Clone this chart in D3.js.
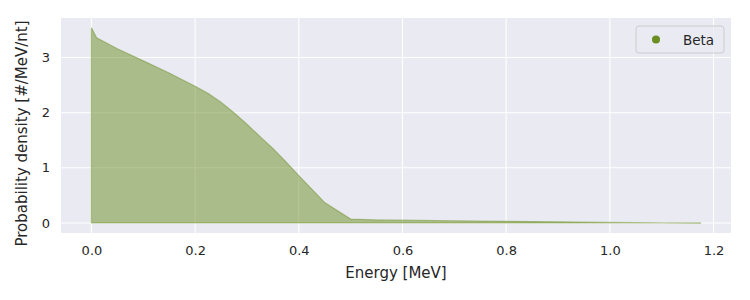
<!DOCTYPE html>
<html>
<head>
<meta charset="utf-8">
<script src="https://cdn.jsdelivr.net/npm/d3@7"></script>
<style>
  body { margin: 0; background: #fff; }
  svg { font-family: "DejaVu Sans", sans-serif; }
</style>
</head>
<body>
<div id="chart"></div>
<script>
// energy grid (MeV) and beta spectrum probability density
const energy = [0, 0.01, 0.05, 0.1, 0.15, 0.2, 0.225, 0.25, 0.275, 0.3, 0.325, 0.35, 0.375,
                0.4, 0.45, 0.5, 0.55, 0.6, 0.7, 0.8, 0.9, 1.0, 1.1, 1.175];
const density = [3.54, 3.36, 3.16, 2.94, 2.72, 2.48, 2.35, 2.19, 2.0, 1.79, 1.57, 1.35, 1.11,
                 0.86, 0.37, 0.07, 0.055, 0.05, 0.04, 0.03, 0.02, 0.01, 0.0, -0.005];
const xTicks = [0, 0.2, 0.4, 0.6, 0.8, 1.0, 1.2];
const yTicks = [0, 1, 2, 3];
const seriesName = "Beta";

const W = 750, H = 300;
const margin = { top: 18, right: 19, bottom: 67, left: 61 };
const width = W - margin.left - margin.right;
const height = H - margin.top - margin.bottom;

const data = energy.map((e, i) => ({ e, p: density[i] }));

const svg = d3.select("#chart").append("svg")
    .attr("width", W).attr("height", H);

const g = svg.append("g")
    .attr("transform", `translate(${margin.left},${margin.top})`);

// matplotlib style 5% margins
const xPad = (d3.max(energy) - d3.min(energy)) * 0.05;
const yPad = (d3.max(density) - 0) * 0.05;

const x = d3.scaleLinear()
    .domain([d3.min(energy) - xPad, d3.max(energy) + xPad])
    .range([0, width]);

const y = d3.scaleLinear()
    .domain([Math.min(0, d3.min(density)) - yPad, d3.max(density) + yPad])
    .range([height, 0]);

g.append("rect")
    .attr("width", width).attr("height", height)
    .attr("fill", "#eaeaf2");

// grid
g.selectAll(".vgrid").data(xTicks).enter().append("line")
    .attr("x1", d => x(d)).attr("x2", d => x(d))
    .attr("y1", 0).attr("y2", height)
    .attr("stroke", "#fff").attr("stroke-width", 1.1);

g.selectAll(".hgrid").data(yTicks).enter().append("line")
    .attr("y1", d => y(d)).attr("y2", d => y(d))
    .attr("x1", 0).attr("x2", width)
    .attr("stroke", "#fff").attr("stroke-width", 1.1);

// filled area
const area = d3.area()
    .x(d => x(d.e))
    .y0(y(0))
    .y1(d => y(d.p));

g.append("path")
    .datum(data)
    .attr("d", area)
    .attr("fill", "#6b8e23")
    .attr("fill-opacity", 0.5)
    .attr("stroke", "#6b8e23")
    .attr("stroke-opacity", 0.45)
    .attr("stroke-width", 1.2);

// axes (labels only, no spines)
const xAxis = g.append("g")
    .attr("transform", `translate(0,${height})`)
    .call(d3.axisBottom(x).tickValues(xTicks).tickFormat(d3.format(".1f")).tickSize(0).tickPadding(13));

const yAxis = g.append("g")
    .call(d3.axisLeft(y).tickValues(yTicks).tickFormat(d3.format("d")).tickSize(0).tickPadding(11));

[xAxis, yAxis].forEach(a => {
    a.select(".domain").remove();
    a.selectAll("text")
        .attr("font-family", "DejaVu Sans, sans-serif")
        .attr("font-size", 13)
        .attr("fill", "#262626");
});

svg.append("text")
    .attr("x", margin.left + width / 2)
    .attr("y", 278)
    .attr("text-anchor", "middle")
    .attr("font-size", 15)
    .attr("fill", "#262626")
    .text("Energy [MeV]");

svg.append("text")
    .attr("transform", `translate(27,${margin.top + height / 2 + 8}) rotate(-90)`)
    .attr("text-anchor", "middle")
    .attr("font-size", 15)
    .attr("fill", "#262626")
    .text("Probability density [#/MeV/nt]");

// legend
const leg = svg.append("g").attr("transform", "translate(636,26)");
leg.append("rect")
    .attr("width", 88).attr("height", 27).attr("rx", 3)
    .attr("fill", "#eaeaf2").attr("fill-opacity", 0.8)
    .attr("stroke", "#cccccc");
leg.append("circle")
    .attr("cx", 20).attr("cy", 13.5).attr("r", 4)
    .attr("fill", "#6b8e23");
leg.append("text")
    .attr("x", 47).attr("y", 18.5)
    .attr("font-size", 13.5)
    .attr("fill", "#262626")
    .text(seriesName);
</script>
</body>
</html>
